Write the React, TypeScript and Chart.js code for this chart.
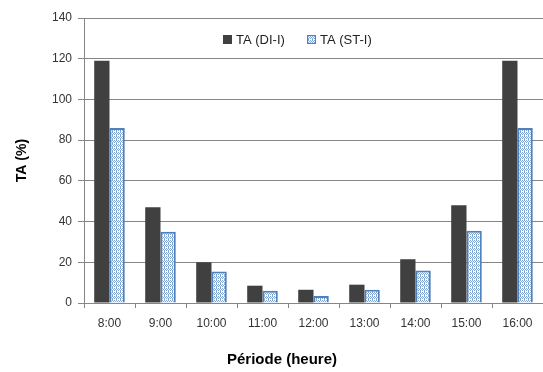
import React, { useEffect, useRef } from "react";
import { Chart, registerables } from "chart.js";

Chart.register(...registerables);

const categories = ["8:00", "9:00", "10:00", "11:00", "12:00", "13:00", "14:00", "15:00", "16:00"];
const seriesDI = [119, 47, 20, 8.5, 6.5, 9, 21.5, 48, 119];
const seriesST = [86, 35, 15.5, 6, 3.5, 6.5, 16, 35.5, 86];
const seriesNames = ["TA (DI-I)", "TA (ST-I)"];
const yTicks = [0, 20, 40, 60, 80, 100, 120, 140];
const xTitle = "Période (heure)";
const yTitle = "TA (%)";

const DARK = "#404040";
const BLUE = "#4F81BD";
const GRID = "#868686";
const FONT = "'Liberation Sans', Arial, sans-serif";

function makePattern(): CanvasPattern | string {
  const c = document.createElement("canvas");
  c.width = 4;
  c.height = 4;
  const ctx = c.getContext("2d");
  if (!ctx) return "#c5d6ee";
  ctx.fillStyle = "#ffffff";
  ctx.fillRect(0, 0, 4, 4);
  ctx.fillStyle = "#7fa3d3";
  ctx.fillRect(0, 0, 1, 1);
  ctx.fillRect(2, 0, 1, 1);
  ctx.fillRect(1, 1, 1, 1);
  ctx.fillRect(3, 1, 1, 1);
  ctx.fillRect(0, 2, 1, 2);
  ctx.fillRect(2, 2, 1, 1);
  const p = ctx.createPattern(c, "repeat");
  return p || "#c5d6ee";
}

export default function App() {
  const ref = useRef<HTMLCanvasElement | null>(null);

  useEffect(() => {
    document.body.style.margin = "0";
    const canvas = ref.current;
    if (!canvas) return;
    const pattern = makePattern();

    const overlay = {
      id: "overlay",
      afterDraw(chart: any) {
        const ctx = chart.ctx;
        ctx.save();
        ctx.fillStyle = "#000";
        ctx.font = `bold 14px ${FONT}`;
        ctx.textAlign = "center";
        ctx.textBaseline = "middle";
        ctx.translate(22, (chart.chartArea.top + chart.chartArea.bottom) / 2);
        ctx.rotate(-Math.PI / 2);
        ctx.fillText(yTitle, 0, 0);
        ctx.restore();

        ctx.save();
        ctx.fillStyle = "#000";
        ctx.font = `bold 15px ${FONT}`;
        ctx.textAlign = "center";
        ctx.textBaseline = "middle";
        ctx.fillText(xTitle, 282, 360);
        ctx.restore();

        ctx.save();
        ctx.font = `13px ${FONT}`;
        ctx.textBaseline = "middle";
        ctx.textAlign = "left";
        const ly = 40;
        let x = 223;
        ctx.fillStyle = DARK;
        ctx.fillRect(x, ly - 5, 9, 9);
        ctx.fillStyle = "#222";
        ctx.fillText(seriesNames[0], x + 13, ly);
        x = 307;
        ctx.fillStyle = pattern as any;
        ctx.fillRect(x, ly - 5, 9, 9);
        ctx.strokeStyle = BLUE;
        ctx.lineWidth = 1;
        ctx.strokeRect(x + 0.5, ly - 4.5, 8, 8);
        ctx.fillStyle = "#222";
        ctx.fillText(seriesNames[1], x + 13, ly);
        ctx.restore();
      },
    };

    const chart = new Chart(canvas, {
      type: "bar",
      data: {
        labels: categories,
        datasets: [
          {
            label: seriesNames[0],
            data: seriesDI,
            backgroundColor: DARK,
            borderWidth: 0,
          },
          {
            label: seriesNames[1],
            data: seriesST,
            backgroundColor: pattern as any,
            borderColor: BLUE,
            borderWidth: 2,
          },
        ],
      },
      options: {
        animation: false,
        responsive: false,
        maintainAspectRatio: false,
        layout: { padding: { top: 18, left: 0, right: 0, bottom: 0 } },
        datasets: {
          bar: { categoryPercentage: 0.6, barPercentage: 1 },
        },
        plugins: {
          legend: { display: false },
          tooltip: { enabled: false },
          title: { display: false },
        },
        scales: {
          x: {
            offset: true,
            grid: {
              display: true,
              offset: true,
              drawOnChartArea: false,
              drawTicks: true,
              tickLength: 5,
              color: GRID,
            },
            border: { display: true, color: GRID, width: 1 },
            ticks: {
              color: "#333",
              font: { family: FONT, size: 12 },
              padding: 8,
              maxRotation: 0,
              autoSkip: false,
            },
            afterFit(scale: any) {
              scale.height = 372 - 303;
            },
          },
          y: {
            min: 0,
            max: 140,
            afterBuildTicks(scale: any) {
              scale.ticks = yTicks.map((v) => ({ value: v }));
            },
            grid: {
              color: GRID,
              drawTicks: true,
              tickLength: 6,
            },
            border: { display: true, color: GRID, width: 1 },
            ticks: {
              color: "#333",
              font: { family: FONT, size: 12 },
              padding: 6,
            },
            afterFit(scale: any) {
              scale.width = 84;
            },
          },
        },
      },
      plugins: [overlay],
    });

    return () => chart.destroy();
  }, []);

  return (
    <div style={{ width: 543, height: 372 }}>
      <canvas ref={ref} width={543} height={372} style={{ display: "block", width: 543, height: 372 }} />
    </div>
  );
}
